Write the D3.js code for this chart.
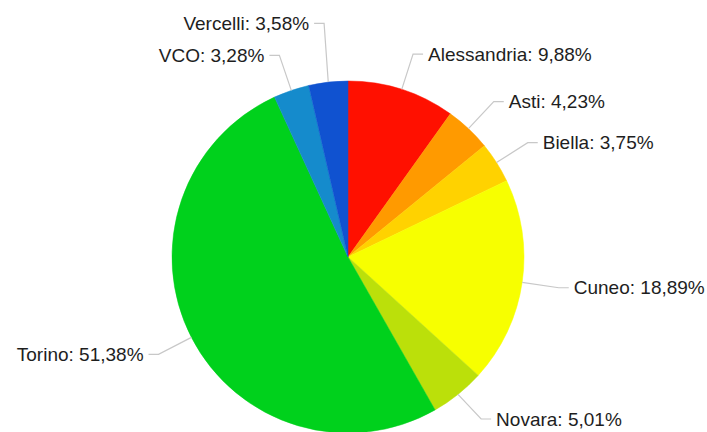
<!DOCTYPE html>
<html>
<head>
<meta charset="utf-8">
<script src="https://cdn.jsdelivr.net/npm/d3@7"></script>
<style>
  html, body { margin: 0; padding: 0; background: #fff; }
  svg { display: block; }
</style>
</head>
<body>
<svg id="chart" width="707" height="432"></svg>
<script>
const categories = ["Alessandria", "Asti", "Biella", "Cuneo", "Novara", "Torino", "VCO", "Vercelli"];
const values = [9.88, 4.23, 3.75, 18.89, 5.01, 51.38, 3.28, 3.58];
const colors = ["#ff1000", "#ff9a00", "#ffd200", "#f7ff00", "#bbe00a", "#00d11c", "#158bcc", "#1052d0"];

const W = 707, H = 432;
const cx = 348, cy = 257, R = 176;
const elbowR = 213, hLen = 10, gap = 5, minSpacing = 32;

const svg = d3.select("#chart");
const g = svg.append("g").attr("transform", `translate(${cx},${cy})`);

const data = categories.map((c, i) => ({ name: c, value: values[i], color: colors[i] }));
const pie = d3.pie().value(d => d.value).sort(null);
const arcs = pie(data);
const arc = d3.arc().innerRadius(0).outerRadius(R);

g.selectAll("path.slice")
  .data(arcs)
  .join("path")
  .attr("class", "slice")
  .attr("d", arc)
  .attr("fill", d => d.data.color)
  .attr("stroke", d => d.data.color)
  .attr("stroke-width", 0.5);

const loc = d3.formatLocale({ decimal: ",", thousands: ".", grouping: [3], currency: ["", "€"] });
const fmt = loc.format(".2f");

const maxY = H - cy - 13;

// label layout
const labels = arcs.map(a => {
  const mid = (a.startAngle + a.endAngle) / 2;
  const s = Math.sin(mid), c = Math.cos(mid);
  return {
    a, mid,
    right: s >= 0,
    edge: [s * R, -c * R],
    ex: s * elbowR,
    ey: Math.min(-c * elbowR, maxY),
    text: `${a.data.name}: ${fmt(a.data.value)}%`
  };
});

// simple collision avoidance per side: push upper labels upward
["left", "right"].forEach(side => {
  const list = labels.filter(l => (side === "right") === l.right).sort((p, q) => q.ey - p.ey);
  for (let i = 1; i < list.length; i++) {
    if (list[i - 1].ey - list[i].ey < minSpacing) {
      list[i].ey = list[i - 1].ey - minSpacing;
    }
  }
});

const lg = g.append("g");
lg.selectAll("polyline")
  .data(labels)
  .join("polyline")
  .attr("fill", "none")
  .attr("stroke", "#c8c8c8")
  .attr("stroke-width", 1.2)
  .attr("points", l => {
    const hx = l.ex + (l.right ? hLen : -hLen);
    return [l.edge, [l.ex, l.ey], [hx, l.ey]].map(p => p.join(",")).join(" ");
  });

lg.selectAll("text")
  .data(labels)
  .join("text")
  .attr("x", l => l.ex + (l.right ? hLen + gap : -(hLen + gap)))
  .attr("y", l => l.ey)
  .attr("dy", "0.35em")
  .attr("text-anchor", l => l.right ? "start" : "end")
  .attr("font-family", "Liberation Sans, Arial, sans-serif")
  .attr("font-size", 19)
  .attr("fill", "#1e1e1e")
  .text(l => l.text);
</script>
</body>
</html>
